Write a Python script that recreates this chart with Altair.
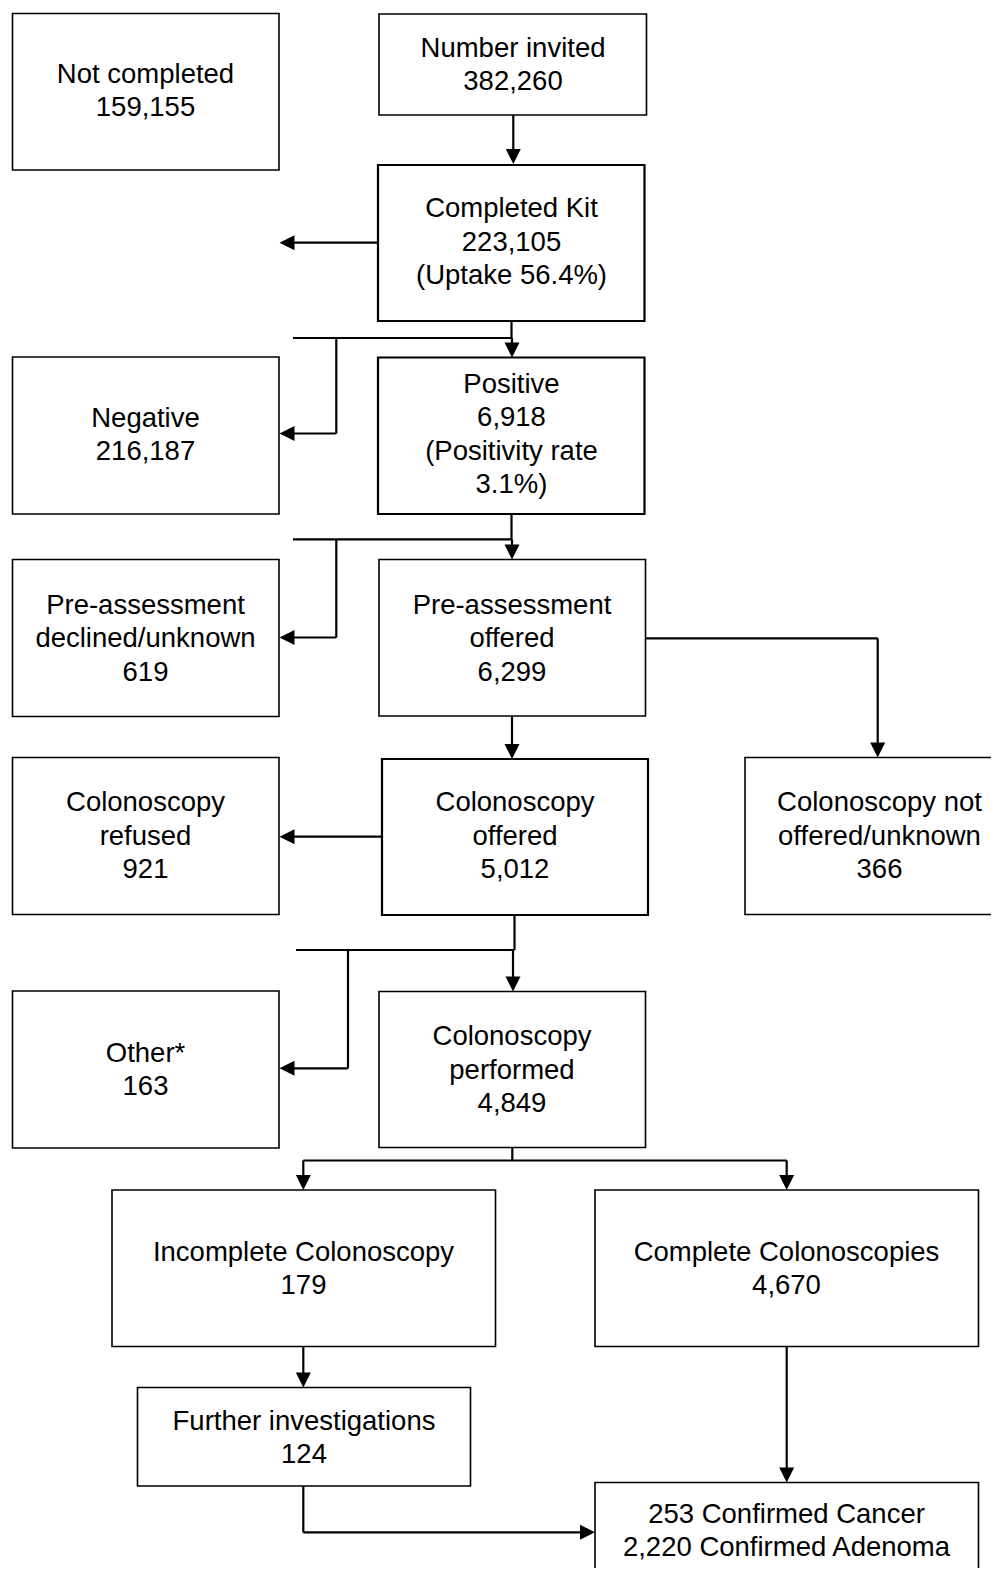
import altair as alt
import pandas as pd

# ---------------- content ----------------
box_names = [
    "Not completed", "Number invited", "Completed Kit", "Negative", "Positive",
    "Pre-assessment\ndeclined/unknown", "Pre-assessment\noffered",
    "Colonoscopy\nrefused", "Colonoscopy\noffered", "Colonoscopy not\noffered/unknown",
    "Other*", "Colonoscopy\nperformed", "Incomplete Colonoscopy",
    "Complete Colonoscopies", "Further investigations",
]
box_counts = [159155, 382260, 223105, 216187, 6918, 619, 6299, 921, 5012, 366,
              163, 4849, 179, 4670, 124]
box_notes = ["", "", "(Uptake 56.4%)", "", "(Positivity rate\n3.1%)", "", "", "",
             "", "", "", "", "", "", ""]
confirmed_types = ["Confirmed Cancer", "Confirmed Adenoma"]
confirmed_counts = [253, 2220]

# ---------------- layout (pixel positions of the page) ----------------
box_x1 = [12.5, 379, 378, 12.5, 378, 12.5, 379, 12.5, 382, 745, 12.5, 379, 112, 595, 137.5, 595]
box_x2 = [279, 646.5, 644.5, 279, 644.5, 279, 645.5, 279, 648, 1015, 279, 645.5, 495.5, 978.5, 470.5, 978.5]
box_y1 = [13.5, 14, 165, 357, 357.5, 559.5, 559.5, 757.5, 759, 757.5, 991, 991.5, 1190, 1190, 1387.5, 1482.5]
box_y2 = [170, 115, 321, 514, 514, 716.5, 716, 914.5, 915, 914.5, 1148, 1147.5, 1346.5, 1346.5, 1486, 1600]
box_sw = [1.6, 1.6, 2.2, 1.6, 2.2, 1.6, 1.6, 1.6, 2.2, 1.6, 1.6, 1.6, 1.6, 1.6, 1.6, 1.6]
text_cx = [145.5, 513, 511.5, 145.5, 511.5, 145.5, 512, 145.5, 515, 879.5, 145.5, 512, 303.5, 786.5, 304, 786.5]
text_cy = [90, 64, 241, 434, 433.5, 637.5, 637.5, 835, 835, 835, 1069, 1069, 1268, 1268, 1437, 1530]
line_h = 33.5

seg_x1 = [513.3, 378, 511.5, 293, 512, 336.3, 336.3, 511.5, 293, 512, 336.3, 336.3, 645.5, 877.7,
          512, 382, 514.5, 296, 513, 348, 348, 512.3, 303.3, 303.3, 786.7, 303.3, 303.3, 303.3, 786.7]
seg_y1 = [115, 242.7, 321, 338, 338, 338, 433.5, 514, 539.3, 539.3, 539.3, 637.5, 638.3, 638.3,
          716, 836.7, 915, 950, 950, 950, 1068.3, 1147.5, 1160.5, 1160.5, 1160.5, 1346.5, 1486, 1532.3, 1346.5]
seg_x2 = [513.3, 286, 511.5, 511.5, 512, 336.3, 286, 511.5, 511.5, 512, 336.3, 286, 877.7, 877.7,
          512, 286, 514.5, 514.5, 513, 348, 286, 512.3, 786.7, 303.3, 786.7, 303.3, 303.3, 588, 786.7]
seg_y2 = [157, 242.7, 338, 338, 351, 433.5, 433.5, 539.3, 539.3, 553, 637.5, 637.5, 638.3, 751,
          752, 836.7, 950, 950, 984.5, 1068.3, 1068.3, 1160.5, 1160.5, 1183, 1183, 1380.5, 1532.3, 1532.3, 1475.5]

head_x = [513.3, 279.5, 512, 279.5, 512, 279.5, 877.7, 512, 279.5, 513, 279.5, 303.3, 786.7, 303.3, 595, 786.7]
head_y = [164, 242.7, 357.5, 433.5, 559.5, 637.5, 757.5, 759, 836.7, 991.5, 1068.3, 1190, 1190, 1387.5, 1532.3, 1482.5]
head_dir = ["down", "left", "down", "left", "down", "left", "down", "down", "left", "down", "left",
            "down", "down", "down", "right", "down"]

# ---------------- build tables ----------------
labels = []
for name, cnt, note in zip(box_names, box_counts, box_notes):
    s = f"{name}\n{cnt:,}"
    if note:
        s += "\n" + note
    labels.append(s)
labels.append("\n".join(f"{c:,} {t}" for c, t in zip(confirmed_counts, confirmed_types)))

boxes = pd.DataFrame({"x1": box_x1, "x2": box_x2, "y1": box_y1, "y2": box_y2, "sw": box_sw})

rows = []
for lab, cx, cy in zip(labels, text_cx, text_cy):
    parts = lab.split("\n")
    n = len(parts)
    for i, p in enumerate(parts):
        rows.append({"tx": cx, "ty": cy + (i - (n - 1) / 2) * line_h, "t": p})
lines = pd.DataFrame(rows)

segs = pd.DataFrame({"x1": seg_x1, "y1": seg_y1, "x2": seg_x2, "y2": seg_y2})
half = 7.5
vec = {"down": (0, 1), "left": (-1, 0), "right": (1, 0), "up": (0, -1)}
heads = pd.DataFrame({
    "hx": [x - half * vec[d][0] for x, d in zip(head_x, head_dir)],
    "hy": [y - half * vec[d][1] for y, d in zip(head_y, head_dir)],
    "dir": head_dir,
})

W, H = 983, 1560
xs = alt.Scale(domain=[8, 8 + W], nice=False, zero=False)
ys = alt.Scale(domain=[8 + H, 8], nice=False, zero=False)

rects = alt.Chart(boxes).mark_rect(fill="white", stroke="black", clip=True).encode(
    x=alt.X("x1:Q", scale=xs, axis=None), x2="x2:Q",
    y=alt.Y("y1:Q", scale=ys, axis=None), y2="y2:Q",
    strokeWidth=alt.StrokeWidth("sw:Q", scale=None, legend=None),
)

rules = alt.Chart(segs).mark_rule(color="black", strokeWidth=2.2, clip=True).encode(
    x=alt.X("x1:Q", scale=xs, axis=None), x2="x2:Q",
    y=alt.Y("y1:Q", scale=ys, axis=None), y2="y2:Q",
)

arrow = alt.Chart(heads).mark_point(filled=True, opacity=1, color="black", size=225, clip=True).encode(
    x=alt.X("hx:Q", scale=xs, axis=None),
    y=alt.Y("hy:Q", scale=ys, axis=None),
    shape=alt.Shape("dir:N", legend=None, scale=alt.Scale(
        domain=["down", "left", "right"],
        range=["M-1,-1L1,-1L0,1Z", "M1,-1L1,1L-1,0Z", "M-1,-1L-1,1L1,0Z"])),
)

texts = alt.Chart(lines).mark_text(
    font="Liberation Sans", fontSize=27.5, align="center",
    baseline="middle", color="black", dy=1.5, clip=True,
).encode(
    x=alt.X("tx:Q", scale=xs, axis=None),
    y=alt.Y("ty:Q", scale=ys, axis=None),
    text="t:N",
)

chart = alt.layer(rules, arrow, rects, texts).properties(
    width=W, height=H, padding=0, autosize=alt.AutoSizeParams(type="none"),
    background="white",
).configure_view(stroke=None)

chart.save("out.html", embed_options={"renderer": "svg", "actions": False})
